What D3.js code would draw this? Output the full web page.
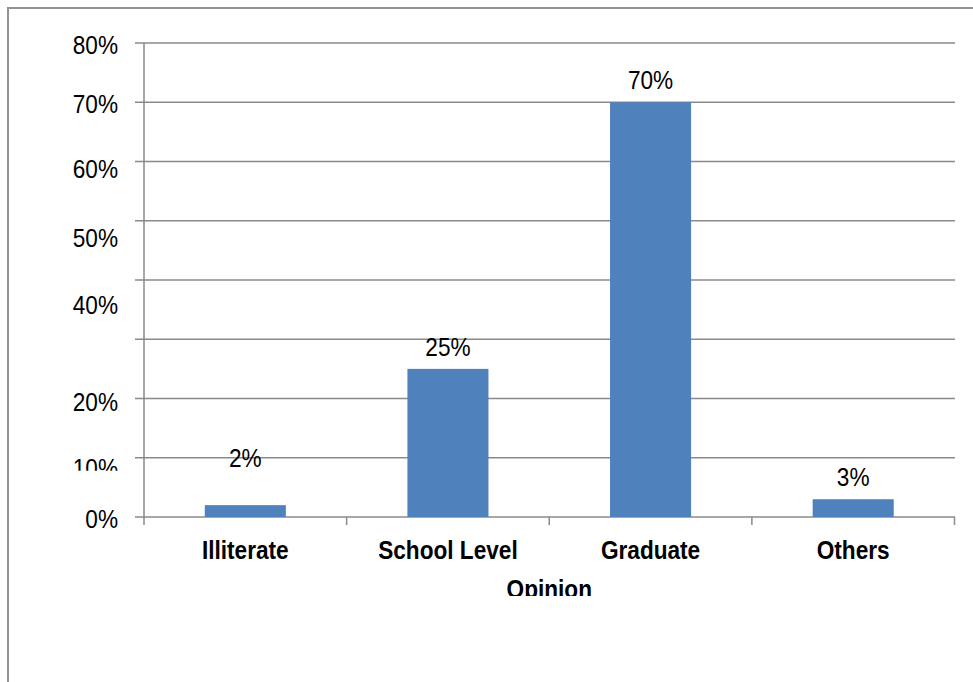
<!DOCTYPE html>
<html>
<head>
<meta charset="utf-8">
<script src="https://cdn.jsdelivr.net/npm/d3@7"></script>
<style>
  html, body { margin: 0; padding: 0; background: #ffffff; }
  svg { display: block; }
  .lbl { font-family: "Liberation Sans", Arial, sans-serif; }
</style>
</head>
<body>
<svg id="chart" width="973" height="682"></svg>
<script>
// Education level of respondents (share of total)
const categories = ["Illiterate", "School Level", "Graduate", "Others"];
const shares = [0.02, 0.25, 0.70, 0.03];
const gridValues = [0, 0.1, 0.2, 0.3, 0.4, 0.5, 0.6, 0.7, 0.8];
const tickLabels = ["0%", "10%", "20%", "", "40%", "50%", "60%", "70%", "80%"];
const valueLabels = ["2%", "25%", "70%", "3%"];
const axisTitle = "Opinion";

// Baseline drop of each axis label below its gridline (px)
const tickLabelDrop = [10.7, 19, 12, 10.5, 34, 26, 16, 10.3, 11];
// Extra lift of each value label above its bar (px)
const valueLabelLift = [25, 0, 0, 0];

// Horizontal squeeze giving a narrow face
const squeeze = 0.87;

const svg = d3.select("#chart");
const gridColor = "#8a8a8a";

const plot = { left: 144, right: 954.5, top: 43, bottom: 517 };

const x = d3.scaleBand()
  .domain(categories)
  .range([plot.left, plot.right])
  .paddingInner(0.6)
  .paddingOuter(0.3);

const y = d3.scaleLinear()
  .domain([0, 0.8])
  .range([plot.bottom, plot.top]);

const place = (px, py) => `translate(${px},${py}) scale(${squeeze},1)`;

// Outer chart frame
svg.append("rect")
  .attr("x", 8).attr("y", 8)
  .attr("width", 1000).attr("height", 700)
  .attr("fill", "#ffffff")
  .attr("stroke", "#939393")
  .attr("stroke-width", 2);

const defs = svg.append("defs");
defs.append("clipPath").attr("id", "clip10")
  .append("rect").attr("x", 0).attr("y", 0).attr("width", 973).attr("height", 470.7);
defs.append("clipPath").attr("id", "clipTitle")
  .append("rect").attr("x", 0).attr("y", 0).attr("width", 973).attr("height", 596);

// Horizontal gridlines with short outer ticks on the left
svg.append("g")
  .selectAll("line")
  .data(gridValues)
  .join("line")
  .attr("x1", plot.left - 9)
  .attr("x2", plot.right + 0.5)
  .attr("y1", d => y(d))
  .attr("y2", d => y(d))
  .attr("stroke", gridColor)
  .attr("stroke-width", 1.5);

// Vertical value axis line
svg.append("line")
  .attr("x1", plot.left).attr("x2", plot.left)
  .attr("y1", y(0.8)).attr("y2", y(0))
  .attr("stroke", gridColor)
  .attr("stroke-width", 1.5);

// Category separators below the base line
const sepX = [plot.left, ...categories.slice(1).map(c => x(c) - x.step() * x.paddingInner() / 2), plot.right];
svg.append("g")
  .selectAll("line")
  .data(sepX)
  .join("line")
  .attr("x1", d => d).attr("x2", d => d)
  .attr("y1", y(0)).attr("y2", y(0) + 8)
  .attr("stroke", gridColor)
  .attr("stroke-width", 1.5);

// Value axis labels
svg.append("g")
  .selectAll("g")
  .data(gridValues)
  .join("g")
  .attr("clip-path", (d, i) => i === 1 ? "url(#clip10)" : null)
  .append("text")
  .attr("class", "lbl")
  .attr("transform", (d, i) => place(118, y(d) + tickLabelDrop[i]))
  .attr("text-anchor", "end")
  .attr("font-size", 26)
  .attr("fill", "#000")
  .text((d, i) => tickLabels[i]);

// Bars
svg.append("g")
  .selectAll("rect")
  .data(shares)
  .join("rect")
  .attr("x", (d, i) => x(categories[i]))
  .attr("y", d => y(d))
  .attr("width", x.bandwidth())
  .attr("height", d => y(0) - y(d))
  .attr("fill", "#4f81bd");

// Value labels above bars
svg.append("g")
  .selectAll("text")
  .data(shares)
  .join("text")
  .attr("class", "lbl")
  .attr("transform", (d, i) => place(x(categories[i]) + x.bandwidth() / 2, y(d) - 13 - valueLabelLift[i]))
  .attr("text-anchor", "middle")
  .attr("font-size", 26)
  .attr("fill", "#000")
  .text((d, i) => valueLabels[i]);

// Category labels
svg.append("g")
  .selectAll("text")
  .data(categories)
  .join("text")
  .attr("class", "lbl")
  .attr("transform", d => place(x(d) + x.bandwidth() / 2, 559))
  .attr("text-anchor", "middle")
  .attr("font-size", 26)
  .attr("font-weight", "bold")
  .attr("fill", "#000")
  .text(d => d);

// Axis title
svg.append("g")
  .attr("clip-path", "url(#clipTitle)")
  .append("text")
  .attr("class", "lbl")
  .attr("transform", place((plot.left + plot.right) / 2, 598))
  .attr("text-anchor", "middle")
  .attr("font-size", 26)
  .attr("font-weight", "bold")
  .attr("fill", "#000")
  .text(axisTitle);
</script>
</body>
</html>
